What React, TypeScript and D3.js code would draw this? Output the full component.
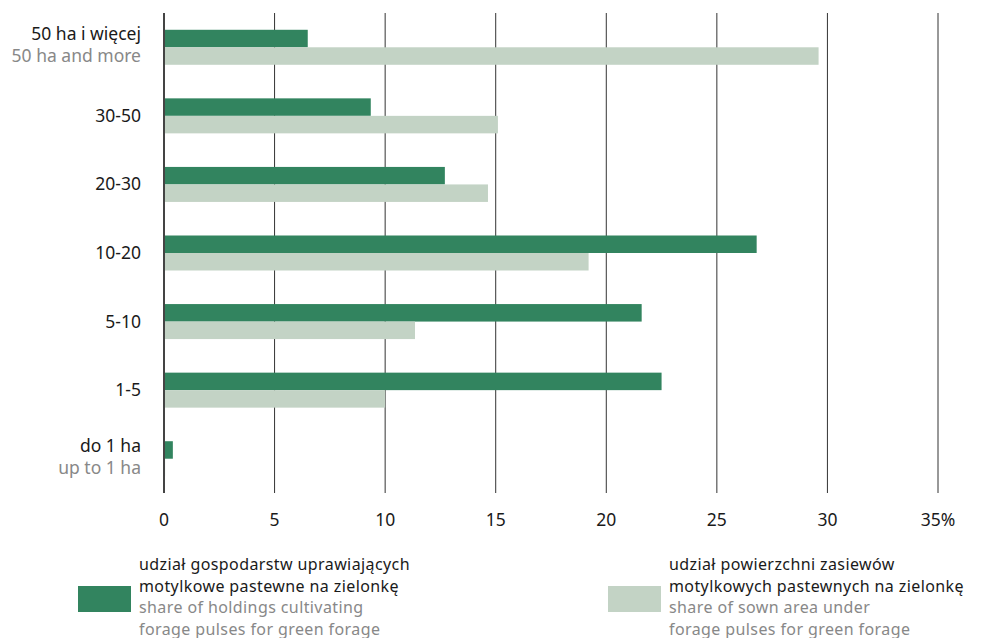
import React from "react";
import * as d3 from "d3";

const categoriesPL = ["50 ha i więcej", "30-50", "20-30", "10-20", "5-10", "1-5", "do 1 ha"];
const categoriesEN = ["50 ha and more", "", "", "", "", "", "up to 1 ha"];
const holdingsShare = [6.5, 9.35, 12.7, 26.8, 21.6, 22.5, 0.4];
const areaShare = [29.6, 15.1, 14.65, 19.2, 11.35, 10.0, 0.05];
const xTicks = [0, 5, 10, 15, 20, 25, 30, 35];
const legendDark = ["udział gospodarstw uprawiających", "motylkowe pastewne na zielonkę", "share of holdings cultivating", "forage pulses for green forage"];
const legendLight = ["udział powierzchni zasiewów", "motylkowych pastewnych na zielonkę", "share of sown area under", "forage pulses for green forage"];

const W = 985, H = 638;
const DARK = "#32845f", LIGHT = "#c3d3c5";
const FONT = "'Noto Sans', sans-serif";
const FS = 17.5;
const LFS = 16;

export default function App() {
  const x = d3.scaleLinear().domain([0, 35]).range([164, 938]);
  const y = d3.scaleBand<string>().domain(categoriesPL).range([13, 493]).paddingInner(0).paddingOuter(0);
  const barH = 17.5;
  return (
    <svg width={W} height={H} style={{ position: "absolute", left: 0, top: 0, fontFamily: FONT }}>
      <rect width={W} height={H} fill="#fff" />
      {xTicks.map((t) => (
        <g key={t}>
          {t !== 0 && <line x1={x(t)} x2={x(t)} y1={13} y2={493} stroke="#333" strokeWidth={1} />}
          <text x={x(t)} y={526} textAnchor="middle" fontSize={FS} fill="#1a1a1a">{t === 35 ? "35%" : t}</text>
        </g>
      ))}
      {categoriesPL.map((c, i) => {
        const cy = (y(c) as number) + y.bandwidth() / 2;
        return (
          <g key={c}>
            <rect x={x(0)} y={cy - barH} width={x(holdingsShare[i]) - x(0)} height={barH} fill={DARK} />
            <rect x={x(0)} y={cy} width={x(areaShare[i]) - x(0)} height={barH} fill={LIGHT} />
            {categoriesEN[i] ? (
              <>
                <text x={141} y={cy - 7} textAnchor="end" fontSize={FS} fill="#1a1a1a">{c}</text>
                <text x={141} y={cy + 15} textAnchor="end" fontSize={FS} fill="#888">{categoriesEN[i]}</text>
              </>
            ) : (
              <text x={141} y={cy + 6} textAnchor="end" fontSize={FS} fill="#1a1a1a">{c}</text>
            )}
          </g>
        );
      })}
      <line x1={x(0)} x2={x(0)} y1={13} y2={493} stroke="#444" strokeWidth={2} />
      <rect x={78} y={586} width={53} height={26} fill={DARK} />
      {legendDark.map((l, i) => (
        <text key={i} x={139} y={570 + i * 21.5} fontSize={LFS} fill={i < 2 ? "#1a1a1a" : "#888"} letterSpacing={0.4}>{l}</text>
      ))}
      <rect x={608} y={586} width={53} height={26} fill={LIGHT} />
      {legendLight.map((l, i) => (
        <text key={i} x={669} y={570 + i * 21.5} fontSize={LFS} fill={i < 2 ? "#1a1a1a" : "#888"} letterSpacing={0.4}>{l}</text>
      ))}
    </svg>
  );
}
